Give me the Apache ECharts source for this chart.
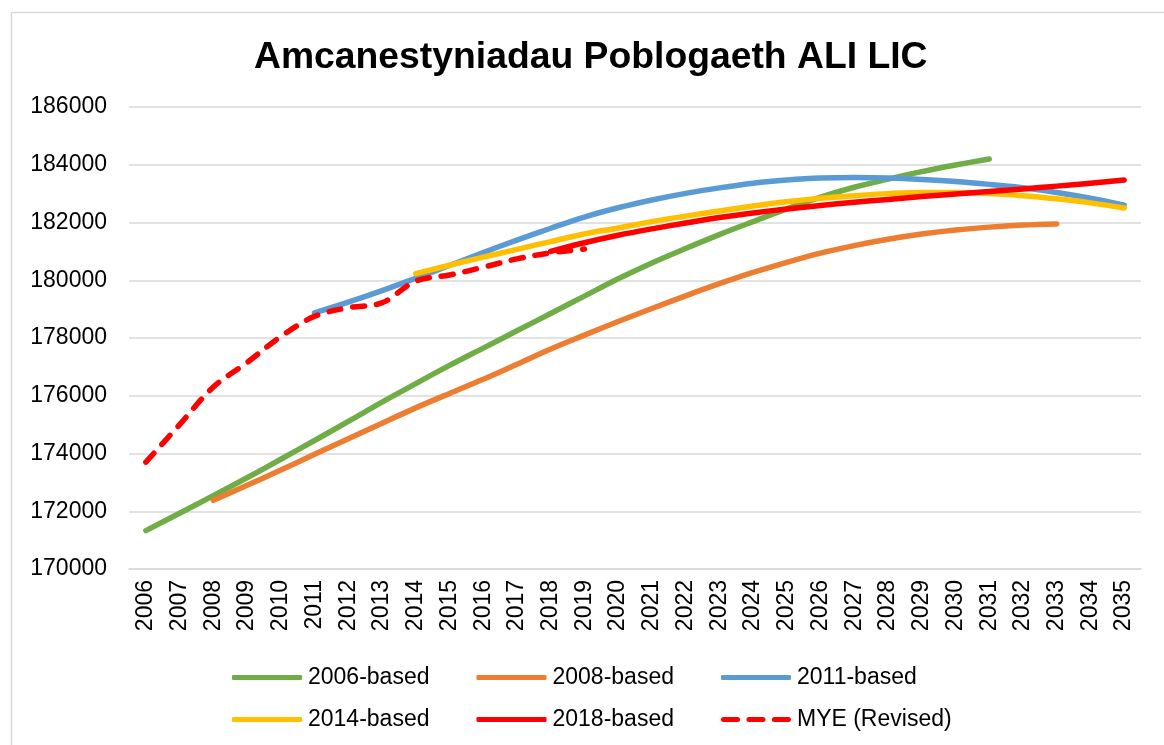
<!DOCTYPE html>
<html>
<head>
<meta charset="utf-8">
<script src="https://cdn.jsdelivr.net/npm/echarts@6/dist/echarts.min.js"></script>
<style>
  html, body { margin: 0; padding: 0; background: #fff; }
  #chart { width: 1164px; height: 745px; }
</style>
</head>
<body>
<div id="chart"></div>
<script>
const years = ["2006","2007","2008","2009","2010","2011","2012","2013","2014","2015",
  "2016","2017","2018","2019","2020","2021","2022","2023","2024","2025",
  "2026","2027","2028","2029","2030","2031","2032","2033","2034","2035"]

const based2006 = [171330, 171930, 172540, 173160, 173800, 174450, 175110, 175780, 176420, 177050,
  177650, 178250, 178850, 179450, 180050, 180600, 181100, 181580, 182030, 182470,
  182880, 183220, 183500, 183760, 183990, 184200, null, null, null, null]

const based2008 = [null, null, 172380, 172900, 173430, 173970, 174510, 175050, 175580, 176080,
  176570, 177090, 177620, 178100, 178570, 179020, 179460, 179880, 180270, 180620,
  180940, 181200, 181420, 181600, 181740, 181840, 181910, 181950, null, null]

const based2011 = [null, null, null, null, null, 178870, 179240, 179640, 180070, 180510,
  180960, 181390, 181800, 182190, 182510, 182780, 183010, 183200, 183360, 183470,
  183540, 183560, 183540, 183490, 183420, 183320, 183200, 183040, 182840, 182600]

const based2014 = [null, null, null, null, null, null, null, null, 180230, 180520,
  180800, 181070, 181340, 181600, 181810, 182030, 182220, 182400, 182570, 182720,
  182840, 182930, 183000, 183040, 183040, 183000, 182930, 182820, 182680, 182500]

const based2018 = [null, null, null, null, null, null, null, null, null, null,
  null, null, 181000, 181300, 181560, 181780, 181980, 182170, 182330, 182470,
  182590, 182700, 182800, 182900, 182990, 183070, 183160, 183260, 183360, 183470]

const mye = [173700, 175000, 176300, 177150, 178050, 178750, 179050, 179220, 179970, 180180,
  180450, 180740, 180950, 181080, null, null, null, null, null, null,
  null, null, null, null, null, null, null, null, null, null]

const font = "'Liberation Sans', Arial, sans-serif"

// legend swatches: a plain bar, and three dashes for the MYE line
const solidIcon = "roundRect"
const dashIcon = "path://M2.5,0h13a2.5,2.5 0 0 1 0,5h-13a2.5,2.5 0 0 1 0,-5z" +
  "M26.5,0h13a2.5,2.5 0 0 1 0,5h-13a2.5,2.5 0 0 1 0,-5z" +
  "M50.5,0h13a2.5,2.5 0 0 1 0,5h-13a2.5,2.5 0 0 1 0,-5z"

function line(name, data, color, dashed) {
  return {
    name: name,
    type: "line",
    data: data,
    symbol: "none",
    smooth: 0.35,
    connectNulls: false,
    lineStyle: {
      color: color,
      width: 5.5,
      cap: "round",
      join: "round",
      type: dashed ? [12, 12] : "solid"
    },
    itemStyle: { color: color }
  }
}

const legendText = { color: "#000", fontSize: 23, fontFamily: font, padding: [0, 0, 0, 1] }

function legendRow(names, icons, top) {
  return {
    data: names.map((n, i) => ({ name: n, icon: icons[i] })),
    left: 232,
    top: top,
    padding: 0,
    itemWidth: 70,
    itemHeight: 5,
    itemGap: 47,
    symbolKeepAspect: false,
    textStyle: legendText
  }
}

const chart = echarts.init(document.getElementById("chart"))
chart.setOption({
  backgroundColor: "#fff",
  animation: false,
  title: {
    text: "Amcanestyniadau Poblogaeth ALI LIC",
    left: 249,
    top: 34,
    textStyle: {
      color: "#000",
      fontSize: 37.3,
      fontWeight: "bold",
      fontFamily: font
    }
  },
  graphic: [
    {
      type: "rect",
      left: 9,
      top: 10,
      shape: { width: 1200, height: 800 },
      style: { fill: "none", stroke: "#D9D9D9", lineWidth: 1.5 },
      silent: true
    }
  ],
  legend: [
    legendRow(["2006-based", "2008-based", "2011-based"], [solidIcon, solidIcon, solidIcon], 666),
    legendRow(["2014-based", "2018-based", "MYE (Revised)"], [solidIcon, solidIcon, dashIcon], 708)
  ],
  grid: {
    left: 129,
    right: 23,
    top: 107,
    bottom: 176
  },
  xAxis: {
    type: "category",
    data: years,
    boundaryGap: true,
    axisLine: { show: true, lineStyle: { color: "#D9D9D9", width: 1.5 } },
    axisTick: { show: false },
    axisLabel: {
      rotate: 90,
      margin: 11,
      interval: 0,
      color: "#000",
      fontSize: 23,
      fontFamily: font
    }
  },
  yAxis: {
    type: "value",
    min: 170000,
    max: 186000,
    interval: 2000,
    axisLine: { show: false },
    axisTick: { show: false },
    splitLine: { show: true, lineStyle: { color: "#D9D9D9", width: 1.5 } },
    axisLabel: {
      margin: 22,
      color: "#000",
      fontSize: 23,
      fontFamily: font,
      formatter: v => String(v)
    }
  },
  series: [
    line("2006-based", based2006, "#70AD47"),
    line("2008-based", based2008, "#ED7D31"),
    line("2011-based", based2011, "#5B9BD5"),
    line("2014-based", based2014, "#FFC000"),
    line("2018-based", based2018, "#FF0000"),
    line("MYE (Revised)", mye, "#FF0000", true)
  ]
})
</script>
</body>
</html>
